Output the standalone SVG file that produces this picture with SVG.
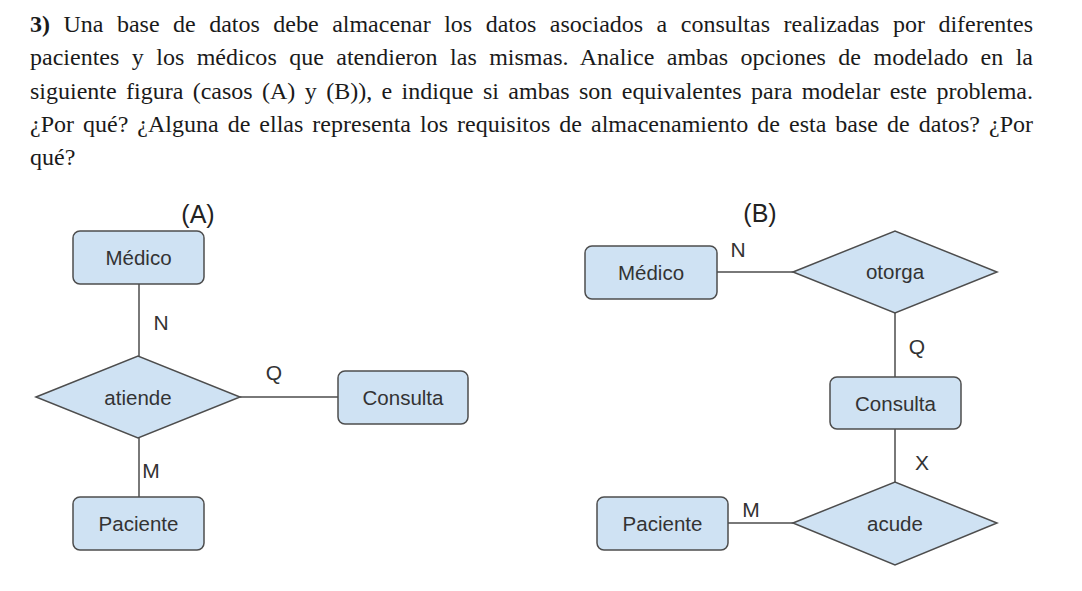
<svg xmlns="http://www.w3.org/2000/svg" width="1082" height="591" viewBox="0 0 1082 591">
<style>
.para{font-family:"Liberation Serif","Times New Roman",serif;font-size:24px;fill:#1a1a1a}
.ent{fill:#cfe2f3;stroke:#4d4d4d;stroke-width:1.5}
.rel{fill:#cfe2f3;stroke:#4d4d4d;stroke-width:1.5;stroke-linejoin:miter}
.lbl{font-family:"Liberation Sans",Arial,sans-serif;font-size:20.5px;fill:#333;text-anchor:middle}
.card{font-family:"Liberation Sans",Arial,sans-serif;font-size:21px;fill:#333;text-anchor:middle}
.ttl{font-family:"Liberation Sans",Arial,sans-serif;font-size:25px;fill:#222;text-anchor:middle}
.conn line{stroke:#4d4d4d;stroke-width:1.5}
</style>
<rect width="1082" height="591" fill="#ffffff"/>
<g id="enunciado">
<text class="para" x="30" y="32" word-spacing="7.5" textLength="1003" lengthAdjust="spacing"><tspan font-weight="bold">3)</tspan> Una base de datos debe almacenar los datos asociados a consultas realizadas por diferentes</text>
<text class="para" x="30" y="65" word-spacing="6.4" textLength="1003" lengthAdjust="spacing">pacientes y los médicos que atendieron las mismas. Analice ambas opciones de modelado en la</text>
<text class="para" x="30" y="98.5" word-spacing="3.4" textLength="1003" lengthAdjust="spacing">siguiente figura (casos (A) y (B)), e indique si ambas son equivalentes para modelar este problema.</text>
<text class="para" x="30" y="131.5" word-spacing="3" textLength="1003" lengthAdjust="spacing">¿Por qué? ¿Alguna de ellas representa los requisitos de almacenamiento de esta base de datos? ¿Por</text>
<text class="para" x="30" y="165">qué?</text>
</g>
<g id="titulos">
<text class="ttl" x="198" y="223">(A)</text>
<text class="ttl" x="760" y="222">(B)</text>
</g>
<g id="conectores" class="conn">
<line x1="139" y1="284" x2="139" y2="356"/>
<line x1="240" y1="397" x2="338" y2="397"/>
<line x1="139" y1="438" x2="139" y2="497"/>
<line x1="717" y1="272" x2="793" y2="272"/>
<line x1="895" y1="313" x2="895" y2="377"/>
<line x1="895" y1="428" x2="895" y2="482"/>
<line x1="728" y1="523" x2="793" y2="523"/>
</g>
<g id="cardinalidades">
<text class="card" x="161" y="330">N</text>
<text class="card" x="274" y="380">Q</text>
<text class="card" x="151" y="478">M</text>
<text class="card" x="738" y="257">N</text>
<text class="card" x="917" y="354">Q</text>
<text class="card" x="922" y="470">X</text>
<text class="card" x="751" y="517">M</text>
</g>
<g id="A-medico">
<rect class="ent" x="73" y="231" width="131" height="53" rx="7"/>
<text class="lbl" x="138.5" y="265">Médico</text>
</g>
<g id="A-atiende">
<polygon class="rel" points="36,397 138,356 240,397 138,438"/>
<text class="lbl" x="138" y="404.5">atiende</text>
</g>
<g id="A-consulta">
<rect class="ent" x="338" y="371" width="130" height="53" rx="7"/>
<text class="lbl" x="403" y="405">Consulta</text>
</g>
<g id="A-paciente">
<rect class="ent" x="73" y="497" width="131" height="53" rx="7"/>
<text class="lbl" x="138.5" y="531">Paciente</text>
</g>
<g id="B-medico">
<rect class="ent" x="585" y="246" width="132" height="53" rx="7"/>
<text class="lbl" x="651" y="280">Médico</text>
</g>
<g id="B-otorga">
<polygon class="rel" points="793,272 895,231 997,272 895,313"/>
<text class="lbl" x="895" y="279">otorga</text>
</g>
<g id="B-consulta">
<rect class="ent" x="830" y="377" width="131" height="52" rx="7"/>
<text class="lbl" x="895.5" y="410.5">Consulta</text>
</g>
<g id="B-acude">
<polygon class="rel" points="793,523 895,482 997,523 895,565"/>
<text class="lbl" x="895" y="530.5">acude</text>
</g>
<g id="B-paciente">
<rect class="ent" x="597" y="497" width="131" height="53" rx="7"/>
<text class="lbl" x="662.5" y="531">Paciente</text>
</g>
</svg>
